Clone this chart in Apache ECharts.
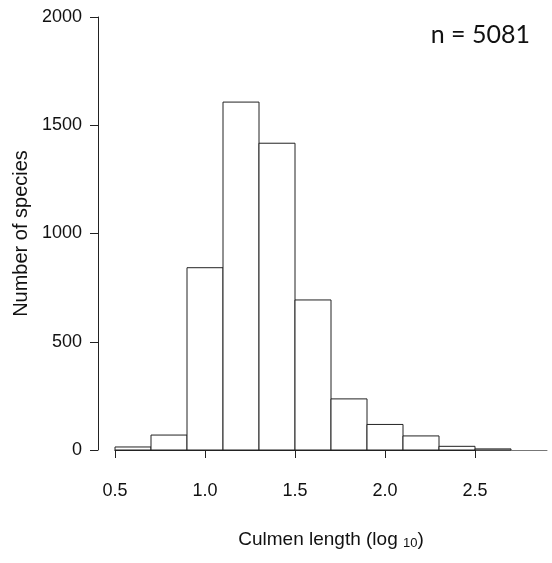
<!DOCTYPE html>
<html>
<head>
<meta charset="utf-8">
<script src="https://cdn.jsdelivr.net/npm/echarts@6/dist/echarts.min.js"></script>
<style>
  html, body { margin: 0; padding: 0; background: #fff; }
  #chart { width: 552px; height: 563px; }
</style>
</head>
<body>
<div id="chart"></div>
<script>
// histogram bins (log10 culmen length)
var binLow  = [0.5, 0.7, 0.9, 1.1, 1.3, 1.5, 1.7, 1.9, 2.1, 2.3, 2.5];
var binHigh = [0.7, 0.9, 1.1, 1.3, 1.5, 1.7, 1.9, 2.1, 2.3, 2.5, 2.7];
var counts  = [14, 69, 842, 1607, 1417, 693, 236, 118, 65, 17, 5];
var xTicks  = [0.5, 1.0, 1.5, 2.0, 2.5];
var yTicks  = [0, 500, 1000, 1500, 2000];
var nLabel  = "n = 5081";

var font = "'Liberation Sans', Arial, sans-serif";

var bars = [];
for (var i = 0; i < counts.length; i++) {
  bars.push([binLow[i], binHigh[i], counts[i]]);
}

var chart = echarts.init(document.getElementById("chart"));

chart.setOption({
  animation: false,
  backgroundColor: "#fff",
  title: {
    text: nLabel,
    right: 22,
    top: 22,
    padding: 0,
    textStyle: { fontFamily: "Lato, sans-serif", fontSize: 25, fontWeight: "normal", color: "#111" }
  },
  grid: [
    // plotting region (bars + baseline)
    { left: 115, right: 5, top: 17, bottom: 113 },
    // only holds the detached x axis from 0.5 to 2.5
    { left: 115, width: 360, top: 17, bottom: 113 }
  ],
  xAxis: [
    {
      gridIndex: 0,
      type: "value",
      min: 0.5,
      max: 2.9,
      axisLine: { show: true, lineStyle: { color: "#777", width: 1 } },
      axisTick: { show: false },
      axisLabel: { show: false },
      splitLine: { show: false },
      name: "{a|Culmen length (log }{s|10}{a|)}",
      nameLocation: "middle",
      nameGap: 79,
      nameTextStyle: {
        rich: {
          a: { fontFamily: font, fontSize: 19, color: "#111" },
          s: { fontFamily: font, fontSize: 13, color: "#111", padding: [8, 0, 0, 0] }
        }
      }
    },
    {
      gridIndex: 1,
      type: "value",
      min: xTicks[0],
      max: xTicks[xTicks.length - 1],
      interval: 0.5,
      offset: 17,
      axisLine: { show: true, lineStyle: { color: "#222", width: 1 } },
      axisTick: { show: true, inside: false, length: 8, lineStyle: { color: "#222" } },
      axisLabel: {
        margin: 15,
        fontFamily: font,
        fontSize: 18,
        color: "#111",
        formatter: function (v) { return v.toFixed(1); }
      },
      splitLine: { show: false }
    }
  ],
  yAxis: [
    {
      gridIndex: 0,
      type: "value",
      min: yTicks[0],
      max: yTicks[yTicks.length - 1],
      interval: 500,
      offset: 17,
      axisLine: { show: true, lineStyle: { color: "#222", width: 1 } },
      axisTick: { show: true, inside: false, length: 8, lineStyle: { color: "#222" } },
      axisLabel: {
        margin: 16,
        fontFamily: font,
        fontSize: 18,
        color: "#111",
        formatter: function (v) { return String(v); }
      },
      splitLine: { show: false },
      name: "Number of species",
      nameLocation: "middle",
      nameGap: 62,
      nameTextStyle: { fontFamily: font, fontSize: 20, color: "#111" }
    },
    {
      gridIndex: 1,
      type: "value",
      show: false,
      min: 0,
      max: 2000
    }
  ],
  series: [
    {
      type: "custom",
      xAxisIndex: 0,
      yAxisIndex: 0,
      data: bars,
      encode: { x: [0, 1], y: 2 },
      clip: false,
      renderItem: function (params, api) {
        var topLeft = api.coord([api.value(0), api.value(2)]);
        var botRight = api.coord([api.value(1), 0]);
        return {
          type: "rect",
          shape: {
            x: topLeft[0],
            y: topLeft[1],
            width: botRight[0] - topLeft[0],
            height: botRight[1] - topLeft[1]
          },
          style: { fill: "#fff", stroke: "#222", lineWidth: 1 }
        };
      }
    }
  ]
});
</script>
</body>
</html>
